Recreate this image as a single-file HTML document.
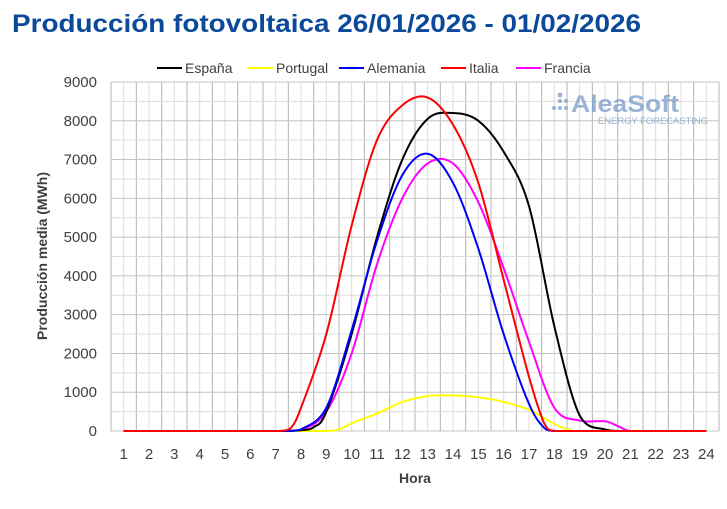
<!DOCTYPE html>
<html><head><meta charset="utf-8"><style>
html,body{margin:0;padding:0;background:#fff;width:727px;height:509px;overflow:hidden}
svg{display:block;font-family:"Liberation Sans",Arial,sans-serif}
</style></head><body>
<svg id="s" width="727" height="509" viewBox="0 0 727 509">
<text x="12" y="32" font-size="25" font-weight="bold" fill="#0b4a9a" textLength="629" lengthAdjust="spacingAndGlyphs">Producción fotovoltaica 26/01/2026 - 01/02/2026</text>
<g id="grid"></g>
<g font-size="15" fill="#7a9cc8" opacity="0.75">
<circle cx="560" cy="101" r="2" fill="#7a9cc8"/><circle cx="566" cy="101" r="2" fill="#7a9cc8"/><circle cx="566" cy="108" r="2" fill="#7a9cc8"/><circle cx="560" cy="108" r="2" fill="#7a9cc8"/><circle cx="554" cy="108" r="2" fill="#7a9cc8"/><circle cx="560" cy="95" r="2.5" fill="#7a9cc8"/>
<text x="571" y="112" font-size="24" font-weight="bold" textLength="108" lengthAdjust="spacingAndGlyphs">AleaSoft</text>
<text x="598" y="124" font-size="9" textLength="110" lengthAdjust="spacingAndGlyphs">ENERGY FORECASTING</text>
</g>
<g id="series" fill="none" stroke-width="2"></g>
<g id="labels" font-size="15" fill="#404040"></g>
<text transform="translate(47,256) rotate(-90)" text-anchor="middle" font-size="14" font-weight="bold" fill="#404040">Producción media (MWh)</text>
<text x="415" y="483" text-anchor="middle" font-size="14" font-weight="bold" fill="#404040">Hora</text>
<g font-size="14" fill="#404040">
<line x1="157" y1="68" x2="182" y2="68" stroke="#000" stroke-width="2"/><text x="185" y="73">España</text>
<line x1="248" y1="68" x2="273" y2="68" stroke="#ffff00" stroke-width="2"/><text x="276" y="73">Portugal</text>
<line x1="339" y1="68" x2="364" y2="68" stroke="#0000ff" stroke-width="2"/><text x="367" y="73">Alemania</text>
<line x1="441" y1="68" x2="466" y2="68" stroke="#ff0000" stroke-width="2"/><text x="469" y="73">Italia</text>
<line x1="516" y1="68" x2="541" y2="68" stroke="#ff00ff" stroke-width="2"/><text x="544" y="73">Francia</text>
</g>
</svg>
<script>
var NS="http://www.w3.org/2000/svg";
function el(t,a,p){var e=document.createElementNS(NS,t);for(var k in a)e.setAttribute(k,a[k]);p.appendChild(e);return e;}
var L=111,R=719,T=82,B=431,W=(R-L)/24;
function X(h){return L+(h-0.5)*W;}
function Y(v){return B-v*(B-T)/9000;}
var g=document.getElementById('grid');
for(var i=0;i<=48;i++){var x=L+i*W/2;el('line',{x1:x,x2:x,y1:T,y2:B,stroke:i%2?'#dcdcdc':'#b4b4b4','stroke-width':1},g);}
for(var i=0;i<=18;i++){var y=T+i*(B-T)/18;el('line',{x1:L,x2:R,y1:y,y2:y,stroke:i%2?'#dcdcdc':'#c4c4c4','stroke-width':1},g);}
var lb=document.getElementById('labels');
for(var v=0;v<=9000;v+=1000){var t=el('text',{x:97,y:Y(v)+5,'text-anchor':'end'},lb);t.textContent=v;}
for(var h=1;h<=24;h++){var t=el('text',{x:X(h),y:459,'text-anchor':'middle'},lb);t.textContent=h;}
function pad(pts){var a=[];for(var h=1;h<=24;h++){a.push([h,0]);}var m={};pts.forEach(function(p){m[p[0]]=p[1];});var out=[];var hs={};for(var h=1;h<=24;h++)hs[h]=1;pts.forEach(function(p){hs[p[0]]=1;});Object.keys(hs).map(Number).sort(function(a,b){return a-b}).forEach(function(h){out.push([h,m[h]!==undefined?m[h]:0]);});return out;}
function path(pts){pts=pts.map(function(p){return [X(p[0]),Y(p[1])];});var d='M'+pts[0][0]+','+pts[0][1];for(var i=0;i<pts.length-1;i++){var p0=pts[i-1]||pts[i],p1=pts[i],p2=pts[i+1],p3=pts[i+2]||p2;var c1=[p1[0]+(p2[0]-p0[0])/6,p1[1]+(p2[1]-p0[1])/6],c2=[p2[0]-(p3[0]-p1[0])/6,p2[1]-(p3[1]-p1[1])/6];c1[1]=Math.min(c1[1],B);c2[1]=Math.min(c2[1],B);d+='C'+c1+' '+c2+' '+p2;}return d;}
var S=[
['#ff00ff',[[8,30],[9,500],[10,2000],[11,4300],[12,6000],[13,6900],[14,6900],[15,5900],[16,4200],[17,2300],[18,600],[19,270],[20,250],[20.5,130],[21,0]]],
['#ffff00',[[9,0],[9.5,40],[10,200],[11,450],[12,750],[13,900],[14,920],[15,870],[16,750],[17,550],[18,180],[18.7,0],[19,0]]],
['#000000',[[8,20],[8.5,100],[9,500],[10,2500],[11,5000],[12,7000],[13,8050],[14,8200],[15,8000],[16,7200],[17,5800],[18,2700],[19,400],[20,40],[20.5,0],[21,0]]],
['#0000ff',[[7.6,0],[8,40],[9,600],[10,2600],[11,4900],[12,6600],[13,7150],[14,6400],[15,4700],[16,2500],[17,700],[17.6,80],[18,0],[19,0]]],
['#ff0000',[[7.2,0],[7.6,80],[8,600],[9,2500],[10,5300],[11,7500],[12,8400],[13,8600],[14,7900],[15,6400],[16,3900],[17,1400],[17.6,200],[18,0],[19,0]]]
];
var sg=document.getElementById('series');
S.forEach(function(s){el('path',{d:path(pad(s[1])),stroke:s[0]},sg);});
</script>
</body></html>
